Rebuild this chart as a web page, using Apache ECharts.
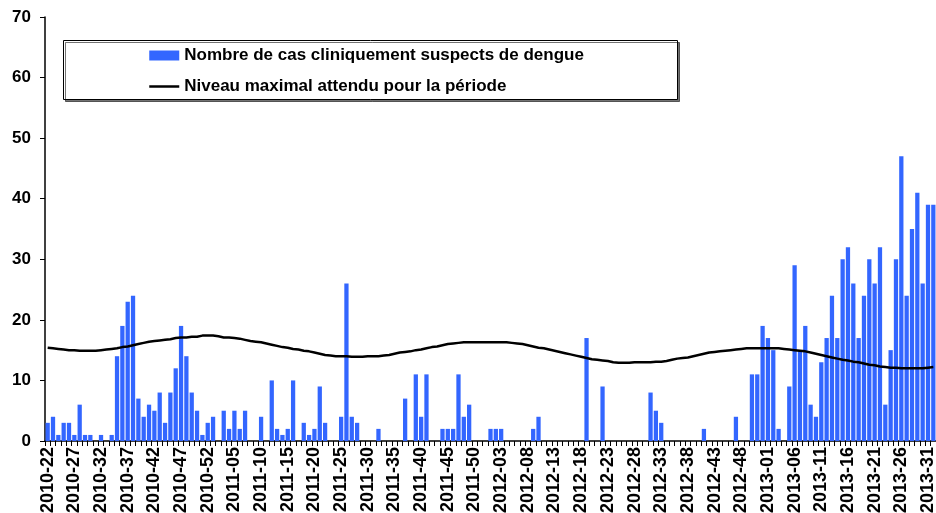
<!DOCTYPE html>
<html>
<head>
<meta charset="utf-8">
<script src="https://cdn.jsdelivr.net/npm/echarts@6/dist/echarts.min.js"></script>
<style>
html,body{margin:0;padding:0;background:#fff;}
#chart{width:936px;height:513px;}
</style>
</head>
<body>
<div id="chart"></div>
<script>
var weeks2010 = ['2010-22','2010-23','2010-24','2010-25','2010-26','2010-27','2010-28','2010-29','2010-30','2010-31','2010-32','2010-33','2010-34','2010-35','2010-36','2010-37','2010-38','2010-39','2010-40','2010-41','2010-42','2010-43','2010-44','2010-45','2010-46','2010-47','2010-48','2010-49','2010-50','2010-51','2010-52'];
var weeks2011 = ['2011-01','2011-02','2011-03','2011-04','2011-05','2011-06','2011-07','2011-08','2011-09','2011-10','2011-11','2011-12','2011-13','2011-14','2011-15','2011-16','2011-17','2011-18','2011-19','2011-20','2011-21','2011-22','2011-23','2011-24','2011-25','2011-26','2011-27','2011-28','2011-29','2011-30','2011-31','2011-32','2011-33','2011-34','2011-35','2011-36','2011-37','2011-38','2011-39','2011-40','2011-41','2011-42','2011-43','2011-44','2011-45','2011-46','2011-47','2011-48','2011-49','2011-50','2011-51','2011-52'];
var weeks2012 = ['2012-01','2012-02','2012-03','2012-04','2012-05','2012-06','2012-07','2012-08','2012-09','2012-10','2012-11','2012-12','2012-13','2012-14','2012-15','2012-16','2012-17','2012-18','2012-19','2012-20','2012-21','2012-22','2012-23','2012-24','2012-25','2012-26','2012-27','2012-28','2012-29','2012-30','2012-31','2012-32','2012-33','2012-34','2012-35','2012-36','2012-37','2012-38','2012-39','2012-40','2012-41','2012-42','2012-43','2012-44','2012-45','2012-46','2012-47','2012-48','2012-49','2012-50','2012-51','2012-52'];
var weeks2013 = ['2013-01','2013-02','2013-03','2013-04','2013-05','2013-06','2013-07','2013-08','2013-09','2013-10','2013-11','2013-12','2013-13','2013-14','2013-15','2013-16','2013-17','2013-18','2013-19','2013-20','2013-21','2013-22','2013-23','2013-24','2013-25','2013-26','2013-27','2013-28','2013-29','2013-30','2013-31','2013-32'];

var cases = [
  3,4,1,3,3,1,6,1,1,0,
  1,0,1,14,19,23,24,7,4,6,
  5,8,3,8,12,19,14,8,5,1,
  3,4,0,5,2,5,2,5,0,0,
  4,0,10,2,1,2,10,0,3,1,
  2,9,3,0,0,4,26,4,3,0,
  0,0,2,0,0,0,0,7,0,11,
  4,11,0,0,2,2,2,11,4,6,
  0,0,0,2,2,2,0,0,0,0,
  0,2,4,0,0,0,0,0,0,0,
  0,17,0,0,9,0,0,0,0,0,
  0,0,0,8,5,3,0,0,0,0,
  0,0,0,2,0,0,0,0,0,4,
  0,0,11,11,19,17,15,2,0,9,
  29,15,19,6,4,13,17,24,17,30,
  32,26,17,24,30,26,32,6,15,30,
  47,24,35,41,26,39,39
];

var maxLevel = [
  15.4,15.3,15.2,15.1,15.0,15.0,14.9,14.9,14.9,14.9,
  15.0,15.1,15.2,15.3,15.5,15.6,15.8,16.0,16.2,16.4,
  16.5,16.6,16.7,16.8,17.0,17.1,17.1,17.2,17.2,17.4,
  17.4,17.4,17.3,17.1,17.1,17.0,16.9,16.7,16.5,16.4,
  16.3,16.1,15.9,15.7,15.5,15.4,15.2,15.1,14.9,14.8,
  14.6,14.4,14.2,14.1,14.0,14.0,14.0,13.9,13.9,13.9,
  14.0,14.0,14.0,14.1,14.2,14.4,14.6,14.7,14.8,15.0,
  15.1,15.3,15.5,15.6,15.8,16.0,16.1,16.2,16.3,16.3,
  16.3,16.3,16.3,16.3,16.3,16.3,16.3,16.2,16.1,16.0,
  15.8,15.6,15.4,15.3,15.1,14.9,14.7,14.5,14.3,14.1,
  13.9,13.7,13.5,13.4,13.3,13.2,13.0,12.9,12.9,12.9,
  13.0,13.0,13.0,13.0,13.1,13.1,13.2,13.4,13.6,13.7,
  13.8,14.0,14.2,14.4,14.6,14.7,14.8,14.9,15.0,15.1,
  15.2,15.3,15.3,15.3,15.3,15.3,15.3,15.3,15.2,15.1,
  15.0,14.9,14.8,14.6,14.4,14.2,14.0,13.8,13.6,13.4,
  13.3,13.1,13.0,12.8,12.6,12.5,12.3,12.2,12.1,12.1,
  12.0,12.0,12.0,12.0,12.0,12.1,12.2
];

var yTicks = [0,10,20,30,40,50,60,70];
var seriesNames = ['Nombre de cas cliniquement suspects de dengue', 'Niveau maximal attendu pour la période'];

var categories = weeks2010.concat(weeks2011, weeks2012, weeks2013);
var FONT = '"Liberation Sans", Arial, sans-serif';

var chart = echarts.init(document.getElementById('chart'), null, {renderer: 'canvas'});
chart.setOption({
  animation: false,
  backgroundColor: '#ffffff',
  grid: {left: 45, right: 0, top: 17, bottom: 72, containLabel: false, outerBoundsMode: 'none'},
  graphic: [{
    type: 'rect',
    left: 63, top: 40,
    shape: {width: 614, height: 59},
    style: {fill: '#ffffff', stroke: '#000000', lineWidth: 1,
            shadowColor: 'rgba(0,0,0,0.55)', shadowOffsetX: 2, shadowOffsetY: 2, shadowBlur: 0},
    z: 10
  }],
  legend: {
    orient: 'vertical',
    left: 148, top: 47,
    itemWidth: 30, itemHeight: 10,
    itemGap: 14,
    padding: 0,
    z: 20,
    textStyle: {fontFamily: FONT, fontWeight: 'bold', fontSize: 17, color: '#000'},
    data: [
      {name: seriesNames[0], icon: 'rect'},
      {name: seriesNames[1], itemStyle: {opacity: 0}, lineStyle: {color: '#000', width: 2.5}}
    ]
  },
  xAxis: {
    type: 'category',
    data: categories,
    boundaryGap: true,
    axisLine: {lineStyle: {color: '#000', width: 1.5}},
    axisTick: {show: true, interval: 0, length: 5, lineStyle: {color: '#000', width: 1}},
    axisLabel: {
      interval: 4, rotate: 90, margin: 6,
      fontFamily: FONT, fontWeight: 'bold', fontSize: 18, color: '#000'
    },
    splitLine: {show: false}
  },
  yAxis: {
    type: 'value',
    min: yTicks[0], max: yTicks[yTicks.length - 1], interval: 10,
    axisLine: {show: true, lineStyle: {color: '#000', width: 1.5}},
    axisTick: {show: true, length: 5, lineStyle: {color: '#000'}},
    axisLabel: {margin: 14, fontFamily: FONT, fontWeight: 'bold', fontSize: 17, color: '#000'},
    splitLine: {show: false}
  },
  series: [
    {
      name: seriesNames[0],
      type: 'bar',
      data: cases,
      barCategoryGap: '20%',
      itemStyle: {color: '#3366ff'}
    },
    {
      name: seriesNames[1],
      type: 'line',
      data: maxLevel,
      symbol: 'none',
      smooth: false,
      lineStyle: {color: '#000', width: 2.5},
      itemStyle: {color: '#000'},
      z: 5
    }
  ]
});
</script>
</body>
</html>
